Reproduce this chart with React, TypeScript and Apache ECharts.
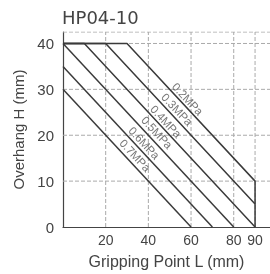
import React, { useEffect, useRef } from "react";
import * as echarts from "echarts";

const titleText = "HP04-10";
const xTickLabels = [20, 40, 60, 80, 90];
const yTickLabels = [0, 10, 20, 30, 40];
const xGridValues = [20, 40, 60, 80, 90];
const yGridValues = [10, 20, 30, 40, 42.5];
const xMin = 0;
const xMax = 97;
const yMin = 0;
const yMax = 42.5;

const pressureNames = ["0.2MPa", "0.3MPa", "0.4MPa", "0.5MPa", "0.6MPa", "0.7MPa"];
const line02 = [[0, 40], [30, 40], [90, 10], [90, 0]];
const line03 = [[0, 40], [20, 40], [90, 5]];
const line04 = [[0, 40], [10, 40], [90, 0]];
const line05 = [[0, 40], [80, 0]];
const line06 = [[0, 35], [70, 0]];
const line07 = [[0, 30], [60, 0]];
const pressureLines = [line02, line03, line04, line05, line06, line07];

const labelX = [58.4, 53.4, 48.2, 44.0, 38.0, 33.8];
const labelY = [27.9, 25.6, 23.0, 20.6, 18.3, 15.6];

export default function App() {
  const ref = useRef<HTMLDivElement>(null);
  useEffect(() => {
    if (!ref.current) return;
    const chart = echarts.init(ref.current, undefined, { renderer: "svg" });
    const font = "'Liberation Sans', Arial, sans-serif";
    const gridSeries = (data: number[][]) => ({
      type: "line",
      data,
      z: 2,
      symbol: "none",
      showSymbol: false,
      silent: true,
      lineStyle: { color: "#aaaaaa", type: "dashed", width: 1 },
    });
    chart.setOption({
      animation: false,
      title: {
        text: titleText,
        left: 57,
        top: 3,
        textStyle: {
          fontSize: 18,
          fontWeight: "normal",
          color: "#444",
          fontFamily: "'DejaVu Sans', sans-serif",
        },
      },
      grid: { left: 63, right: 0, top: 32, bottom: 45.5 },
      xAxis: {
        type: "value",
        min: xMin,
        max: xMax,
        interval: 10,
        name: "Gripping Point L (mm)",
        nameLocation: "middle",
        nameGap: 26,
        nameTextStyle: { fontSize: 16, color: "#444", fontFamily: font },
        axisLine: { show: true, onZero: false, lineStyle: { color: "#444", width: 1.2 } },
        axisTick: { show: false },
        splitLine: { show: false },
        axisLabel: {
          customValues: xTickLabels,
          fontSize: 14,
          color: "#444",
          fontFamily: font,
          margin: 6,
        },
      },
      yAxis: {
        type: "value",
        min: yMin,
        max: yMax,
        interval: 10,
        name: "Overhang H (mm)",
        nameLocation: "middle",
        nameGap: 36,
        nameTextStyle: { fontSize: 15, color: "#444", fontFamily: font },
        axisLine: { show: true, onZero: false, lineStyle: { color: "#444", width: 1.2 } },
        axisTick: { show: false },
        splitLine: { show: false },
        axisLabel: {
          customValues: yTickLabels,
          fontSize: 15,
          color: "#444",
          fontFamily: font,
          margin: 9,
        },
      },
      series: [
        ...xGridValues.map((v) => gridSeries([[v, yMin], [v, yMax]])),
        ...yGridValues.map((v) => gridSeries([[xMin, v], [xMax, v]])),
        ...pressureLines.map((d, i) => ({
          type: "line",
          name: pressureNames[i],
          data: d,
          z: 3,
          symbol: "none",
          lineStyle: { color: "#3a3a3a", width: 1.5 },
          silent: true,
        })),
        {
          type: "scatter",
          z: 4,
          symbolSize: 1,
          itemStyle: { color: "rgba(0,0,0,0)" },
          data: pressureNames.map((n, i) => [labelX[i], labelY[i], n]),
          label: {
            show: true,
            position: "inside",
            formatter: (p: any) => p.value[2],
            rotate: -47,
            fontSize: 11.5,
            color: "#555",
            fontFamily: font,
          },
          silent: true,
        },
      ],
    });
    return () => chart.dispose();
  }, []);
  return (
    <div
      ref={ref}
      style={{ position: "fixed", left: 0, top: 0, width: 270, height: 274 }}
    />
  );
}
